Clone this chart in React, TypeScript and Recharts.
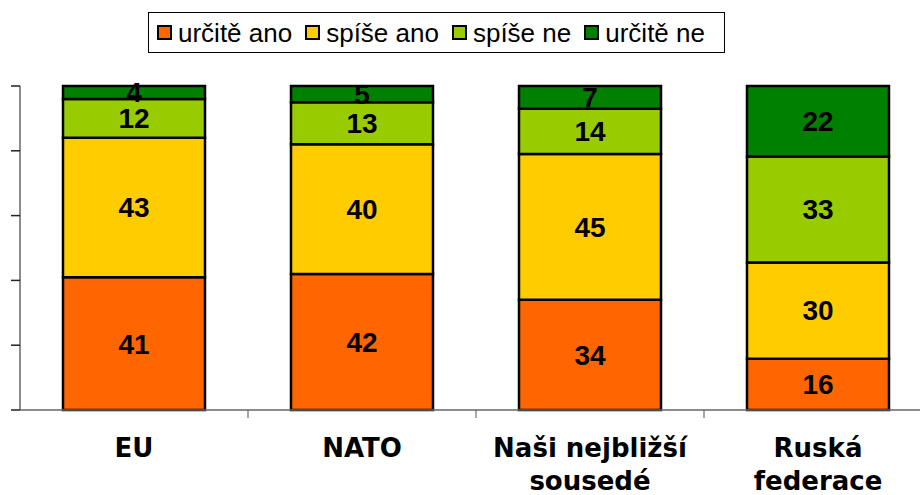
import * as React from "react"
import {
  BarChart,
  Bar,
  XAxis,
  YAxis,
  LabelList,
  Legend,
} from "recharts"

// ─── Data ────────────────────────────────────────────────────────────────────
const CATEGORIES = [
  ["EU"],
  ["NATO"],
  ["Naši nejbližší", "sousedé"],
  ["Ruská", "federace"],
]
const SERIES_NAMES = ["určitě ano", "spíše ano", "spíše ne", "určitě ne"]
const URCITE_ANO = [41, 42, 34, 16]
const SPISE_ANO = [43, 40, 45, 30]
const SPISE_NE = [12, 13, 14, 33]
const URCITE_NE = [4, 5, 7, 22]
const Y_TICKS = [0, 0.2, 0.4, 0.6, 0.8, 1]

// ─── Colors ──────────────────────────────────────────────────────────────────
const COLORS = ["#FF6600", "#FFCC00", "#99CC00", "#008000"]
const KEYS = ["a", "b", "c", "d"]

const data = CATEGORIES.map((lines, i) => ({
  name: lines.join(" "),
  lines,
  a: URCITE_ANO[i],
  b: SPISE_ANO[i],
  c: SPISE_NE[i],
  d: URCITE_NE[i],
}))

const CHART_W = 932
const CHART_H = 495
const PLOT_LEFT = 20
const BAND = (CHART_W - PLOT_LEFT) / CATEGORIES.length

// x axis tick: label lines + divider mark at the right edge of the band
function CategoryTick(props: any) {
  const { x, y, index } = props
  const lines = CATEGORIES[index] || []
  return (
    <g>
      <line x1={x + BAND / 2} y1={y} x2={x + BAND / 2} y2={y + 8} stroke="#555" strokeWidth={1} />
      {lines.map((line, i) => (
        <text
          key={i}
          x={x}
          y={y + 47 + i * 33}
          textAnchor="middle"
          fontFamily="'DejaVu Sans', Verdana, sans-serif"
          fontWeight="bold"
          fontSize={26}
          fill="#000"
        >
          {line}
        </text>
      ))}
    </g>
  )
}

function LegendBox() {
  return (
    <div
      style={{
        position: "absolute",
        left: 148,
        top: 12,
        width: 577,
        height: 41,
        boxSizing: "border-box",
        border: "1px solid #000",
        background: "#fff",
        display: "flex",
        alignItems: "center",
        paddingLeft: 8,
        whiteSpace: "nowrap",
        fontFamily: "'Liberation Sans', Arial, sans-serif",
        fontSize: 26,
        color: "#000",
      }}
    >
      {SERIES_NAMES.map((name, i) => (
        <div
          key={name}
          style={{ display: "flex", alignItems: "center", marginRight: 13, flexShrink: 0 }}
        >
          <span
            style={{
              display: "inline-block",
              width: 11,
              height: 11,
              border: "2px solid #000",
              background: COLORS[i],
              marginRight: 6,
            }}
          />
          <span style={{ lineHeight: "30px" }}>{name}</span>
        </div>
      ))}
    </div>
  )
}

export default function App() {
  return (
    <div
      style={{
        position: "absolute",
        left: 0,
        top: 0,
        width: 920,
        height: 495,
        overflow: "hidden",
        background: "#fff",
      }}
    >
      <BarChart
        width={CHART_W}
        height={CHART_H}
        data={data}
        stackOffset="expand"
        margin={{ top: 86, right: 0, left: 10, bottom: 0 }}
      >
        <YAxis
          width={10}
          domain={[0, 1]}
          ticks={Y_TICKS}
          tickSize={9}
          tick={() => <g />}
          axisLine={{ stroke: "#666", strokeWidth: 1.5 }}
          tickLine={{ stroke: "#222", strokeWidth: 1.5 }}
        />
        <XAxis
          dataKey="name"
          height={85}
          tickSize={0}
          tickMargin={0}
          interval={0}
          tickLine={false}
          axisLine={{ stroke: "#666", strokeWidth: 1.5 }}
          tick={<CategoryTick />}
        />
        <Legend content={() => null} />
        {KEYS.map((k, i) => (
          <Bar
            key={k}
            dataKey={k}
            name={SERIES_NAMES[i]}
            stackId="s"
            fill={COLORS[i]}
            stroke="#000"
            strokeWidth={2.5}
            barSize={142}
            isAnimationActive={false}
          >
            <LabelList
              dataKey={k}
              position="center"
              fill="#000"
              fontSize={28}
              fontWeight="bold"
              fontFamily="'Liberation Sans', Arial, sans-serif"
            />
          </Bar>
        ))}
      </BarChart>
      <LegendBox />
    </div>
  )
}
